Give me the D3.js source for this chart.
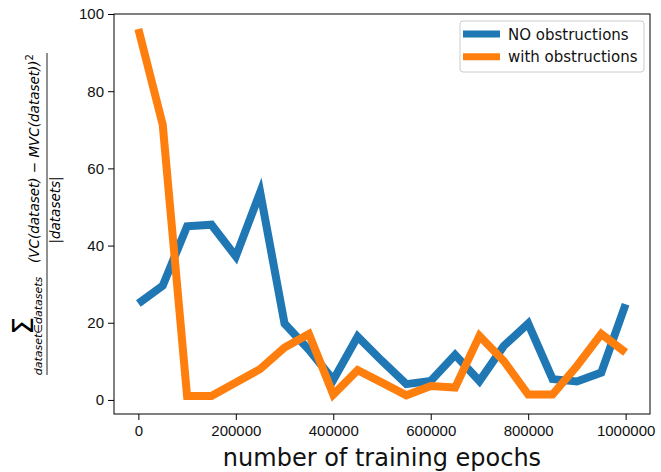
<!DOCTYPE html>
<html>
<head>
<meta charset="utf-8">
<script src="https://cdn.jsdelivr.net/npm/d3@7"></script>
<style>
  body { margin: 0; background: #fff; }
  svg { font-family: "DejaVu Sans", sans-serif; }
  .axis path, .axis line { stroke: #000; stroke-width: 1; }
  .axis text { font-size: 15px; fill: #111; }
</style>
</head>
<body>
<svg width="661" height="472"></svg>
<script>
// training epochs (x) and the two series
const epochs = [0, 50000, 100000, 150000, 200000, 250000, 300000, 350000, 400000, 450000,
  500000, 550000, 600000, 650000, 700000, 750000, 800000, 850000, 900000, 950000, 1000000];
const noObstructions = [25.0, 29.6, 45.0, 45.4, 37.2, 53.8, 19.8, 13.0, 5.2, 16.4,
  10.1, 4.1, 4.9, 11.7, 4.9, 14.0, 19.8, 5.4, 4.8, 7.1, 24.8];
const withObstructions = [96.1, 71.3, 1.0, 1.0, 4.5, 8.0, 13.6, 17.1, 1.4, 7.7,
  4.5, 1.2, 3.6, 3.2, 16.6, 10.1, 1.4, 1.4, 8.8, 17.1, 12.3];
const seriesNames = ["NO obstructions", "with obstructions"];
const xTicks = [0, 200000, 400000, 600000, 800000, 1000000];
const yTicks = [0, 20, 40, 60, 80, 100];

const colors = ["#1f77b4", "#ff7f0e"];

let svg = d3.select("svg"),
    margin = {top: 14, right: 11, bottom: 58, left: 114},
    width = +svg.attr("width") - margin.left - margin.right,
    height = +svg.attr("height") - margin.top - margin.bottom;

let g = svg.append("g")
  .attr("transform", "translate(" + margin.left + "," + margin.top + ")");

let x = d3.scaleLinear().domain([-50000, 1050000]).range([0, width]);
let y = d3.scaleLinear().domain([-3.64, 100]).range([height, 0]);

// lines
let line = d3.line()
  .x((d, i) => x(epochs[i]))
  .y(d => y(d));

[noObstructions, withObstructions].forEach(function(s, k) {
  g.append("path")
    .datum(s)
    .attr("fill", "none")
    .attr("stroke", colors[k])
    .attr("stroke-width", 8)
    .attr("stroke-linejoin", "miter")
    .attr("stroke-linecap", "butt")
    .attr("d", line);
});

// axes
g.append("g")
  .attr("class", "axis")
  .attr("transform", "translate(0," + height + ")")
  .call(d3.axisBottom(x).tickValues(xTicks).tickFormat(d3.format("d")).tickSize(6).tickPadding(5))
  .call(a => a.select(".domain").remove());

g.append("g")
  .attr("class", "axis")
  .call(d3.axisLeft(y).tickValues(yTicks).tickSize(6).tickPadding(4))
  .call(a => a.select(".domain").remove());

// frame
g.append("rect")
  .attr("width", width)
  .attr("height", height)
  .attr("fill", "none")
  .attr("stroke", "#000")
  .attr("stroke-width", 1);

// x label
svg.append("text")
  .attr("x", margin.left + width / 2)
  .attr("y", 466)
  .attr("text-anchor", "middle")
  .attr("font-size", 24)
  .attr("fill", "#111")
  .text("number of training epochs");

// y label (rotated fraction)
let yl = svg.append("g").attr("transform", "translate(47,214) rotate(-90)");
yl.append("line")
  .attr("x1", -161).attr("x2", 161)
  .attr("y1", 0).attr("y2", 0)
  .attr("stroke", "#222").attr("stroke-width", 1);
yl.append("text")
  .attr("x", -112).attr("y", -14)
  .attr("text-anchor", "middle")
  .attr("font-size", 28)
  .text("\u03A3");
yl.append("text")
  .attr("x", -112).attr("y", -5)
  .attr("text-anchor", "middle")
  .attr("font-size", 11)
  .attr("font-style", "italic")
  .text("dataset\u2208datasets");
let num = yl.append("text")
  .attr("x", 160).attr("y", -8)
  .attr("text-anchor", "end")
  .attr("font-size", 13.5)
  .attr("font-style", "italic");
num.append("tspan").text("(VC(dataset) ");
num.append("tspan").attr("font-style", "normal").text("\u2212");
num.append("tspan").text(" MVC(dataset))");
num.append("tspan").attr("font-style", "normal").attr("font-size", 10).attr("dy", -6).text("2");
yl.append("text")
  .attr("x", 4).attr("y", 13)
  .attr("text-anchor", "middle")
  .attr("font-size", 13.5)
  .attr("font-style", "italic")
  .text("|datasets|");

// legend
let lg = svg.append("g").attr("transform", "translate(460,21)");
lg.append("rect")
  .attr("width", 184).attr("height", 51)
  .attr("rx", 3)
  .attr("fill", "#fff").attr("fill-opacity", 0.8)
  .attr("stroke", "#ccc").attr("stroke-width", 1);
seriesNames.forEach(function(name, k) {
  let yy = 13 + k * 22.7;
  lg.append("line")
    .attr("x1", 3).attr("x2", 40)
    .attr("y1", yy).attr("y2", yy)
    .attr("stroke", colors[k]).attr("stroke-width", 7);
  lg.append("text")
    .attr("x", 48).attr("y", yy + 5.5)
    .attr("font-size", 15)
    .attr("fill", "#111")
    .text(name);
});
</script>
</body>
</html>
